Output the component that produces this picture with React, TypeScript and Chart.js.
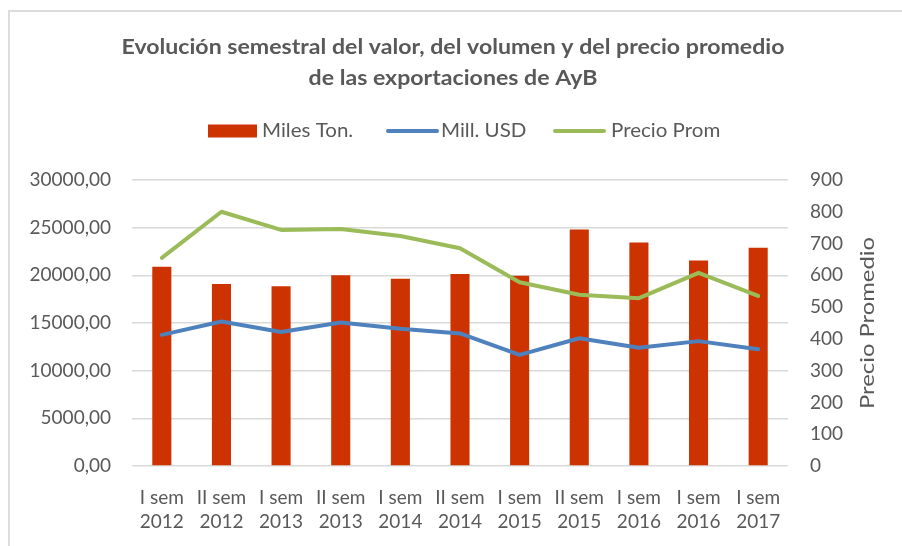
import React, { useEffect, useRef } from "react";
import { Chart, registerables } from "chart.js";

Chart.register(...registerables);

// ---- Data ----
const categories: string[][] = [
  ["I sem", "2012"],
  ["II sem", "2012"],
  ["I sem", "2013"],
  ["II sem", "2013"],
  ["I sem", "2014"],
  ["II sem", "2014"],
  ["I sem", "2015"],
  ["II sem", "2015"],
  ["I sem", "2016"],
  ["I sem", "2016"],
  ["I sem", "2017"],
];
const milesTon = [20900, 19100, 18850, 20000, 19650, 20150, 19950, 24800, 23450, 21550, 22900];
const millUsd = [13750, 15150, 14050, 15050, 14400, 13900, 11650, 13400, 12400, 13100, 12250];
const precioProm = [655, 800, 743, 746, 724, 685, 578, 539, 528, 608, 535];

const titleLines = [
  "Evolución semestral del valor, del volumen y del precio promedio",
  "de las exportaciones de AyB",
];
const seriesNames = ["Miles Ton.", "Mill. USD", "Precio Prom"];
const rightAxisTitle = "Precio Promedio";
const leftAxis = { min: 0, max: 30000, step: 5000 };
const rightAxis = { min: 0, max: 900, step: 100 };

// ---- Styles ----
const RED = "#CC3300";
const BLUE = "#4F81BD";
const GREEN = "#9BBB59";
const TEXT = "#595959";
const GRID = "#D9D9D9";
const FAMILY = "Lato, 'Open Sans', sans-serif";

const fmtLeft = (v: number) => v.toFixed(2).replace(".", ",");

function drawScaledText(
  ctx: CanvasRenderingContext2D,
  text: string,
  x: number,
  y: number,
  font: string,
  sx: number,
  align: CanvasTextAlign,
  rot = 0
) {
  ctx.save();
  ctx.font = font;
  ctx.fillStyle = TEXT;
  ctx.textBaseline = "middle";
  ctx.textAlign = align;
  ctx.translate(x, y);
  if (rot) ctx.rotate(rot);
  ctx.scale(sx, 1);
  ctx.fillText(text, 0, 0);
  ctx.restore();
}

const decorPlugin = {
  id: "decor",
  beforeDraw(chart: any) {
    const ctx: CanvasRenderingContext2D = chart.ctx;
    ctx.save();
    ctx.fillStyle = "#FFFFFF";
    ctx.fillRect(0, 0, chart.width, chart.height);
    ctx.strokeStyle = "#DCDCDC";
    ctx.lineWidth = 2;
    ctx.beginPath();
    ctx.moveTo(9, chart.height + 5);
    ctx.lineTo(9, 11);
    ctx.lineTo(chart.width + 5, 11);
    ctx.stroke();
    ctx.restore();
  },
  afterDraw(chart: any) {
    const ctx: CanvasRenderingContext2D = chart.ctx;
    const area = chart.chartArea;

    // Title
    const tFont = `bold 20px ${FAMILY}`;
    ctx.save();
    ctx.font = tFont;
    const w1 = ctx.measureText(titleLines[0]).width;
    ctx.restore();
    const tsx = 663 / w1;
    drawScaledText(ctx, titleLines[0], 453, 48, tFont, tsx, "center");
    drawScaledText(ctx, titleLines[1], 453, 79, tFont, tsx, "center");

    // Legend
    const lFont = `19px ${FAMILY}`;
    const ly = 131;
    ctx.save();
    ctx.fillStyle = RED;
    ctx.fillRect(208, ly - 6.5, 49, 13);
    ctx.lineCap = "round";
    ctx.lineWidth = 4;
    ctx.strokeStyle = BLUE;
    ctx.beginPath();
    ctx.moveTo(388, ly);
    ctx.lineTo(437, ly);
    ctx.stroke();
    ctx.strokeStyle = GREEN;
    ctx.beginPath();
    ctx.moveTo(555, ly);
    ctx.lineTo(604, ly);
    ctx.stroke();
    ctx.restore();
    drawScaledText(ctx, seriesNames[0], 262, ly, lFont, 1.08, "left");
    drawScaledText(ctx, seriesNames[1], 441, ly, lFont, 1.08, "left");
    drawScaledText(ctx, seriesNames[2], 611, ly, lFont, 1.08, "left");

    // Right axis title (bottom-to-top)
    const aFont = `19px ${FAMILY}`;
    ctx.save();
    ctx.font = aFont;
    const aw = ctx.measureText(rightAxisTitle).width;
    ctx.restore();
    drawScaledText(
      ctx,
      rightAxisTitle,
      868,
      (area.top + area.bottom) / 2,
      aFont,
      172 / aw,
      "center",
      -Math.PI / 2
    );
  },
};

export default function App() {
  const ref = useRef<HTMLCanvasElement | null>(null);

  useEffect(() => {
    if (!ref.current) return;
    const tickFont = { family: FAMILY, size: 19 };
    const chart = new Chart(ref.current, {
      data: {
        labels: categories,
        datasets: [
          {
            type: "line",
            label: seriesNames[1],
            data: millUsd,
            yAxisID: "y",
            borderColor: BLUE,
            backgroundColor: BLUE,
            borderWidth: 4,
            pointRadius: 0,
            tension: 0,
            borderCapStyle: "round",
            borderJoinStyle: "round",
            order: 1,
          },
          {
            type: "line",
            label: seriesNames[2],
            data: precioProm,
            yAxisID: "y1",
            borderColor: GREEN,
            backgroundColor: GREEN,
            borderWidth: 4,
            pointRadius: 0,
            tension: 0,
            borderCapStyle: "round",
            borderJoinStyle: "round",
            order: 0,
          },
          {
            type: "bar",
            label: seriesNames[0],
            data: milesTon,
            yAxisID: "y",
            backgroundColor: RED,
            barPercentage: 0.32,
            categoryPercentage: 1,
            order: 2,
          },
        ],
      } as any,
      options: {
        animation: false,
        responsive: false,
        maintainAspectRatio: false,
        layout: { padding: { top: 180, left: 0, right: 0, bottom: 0 } },
        plugins: {
          legend: { display: false },
          title: { display: false },
          tooltip: { enabled: false },
        },
        scales: {
          x: {
            grid: { display: false, drawTicks: false },
            border: { display: false },
            ticks: {
              font: { ...tickFont, lineHeight: 1.27 },
              color: TEXT,
              padding: 20,
              maxRotation: 0,
              minRotation: 0,
              autoSkip: false,
            },
            afterFit: (s: any) => {
              s.height = 80;
            },
          },
          y: {
            position: "left",
            min: leftAxis.min,
            max: leftAxis.max,
            ticks: {
              stepSize: leftAxis.step,
              font: tickFont,
              color: TEXT,
              padding: 21,
              callback: (v: any) => fmtLeft(Number(v)),
            },
            grid: { color: GRID, lineWidth: 1.5, drawTicks: false },
            border: { display: false },
            afterFit: (s: any) => {
              s.width = 132;
            },
          },
          y1: {
            position: "right",
            min: rightAxis.min,
            max: rightAxis.max,
            ticks: {
              stepSize: rightAxis.step,
              font: tickFont,
              color: TEXT,
              padding: 22,
            },
            grid: { drawOnChartArea: false, drawTicks: false },
            border: { display: false },
            afterFit: (s: any) => {
              s.width = 114;
            },
          },
        },
      } as any,
      plugins: [decorPlugin],
    });
    return () => chart.destroy();
  }, []);

  return (
    <div style={{ position: "absolute", left: 0, top: 0, width: 902, height: 546 }}>
      <canvas ref={ref} width={902} height={546} style={{ width: 902, height: 546, display: "block" }} />
    </div>
  );
}
